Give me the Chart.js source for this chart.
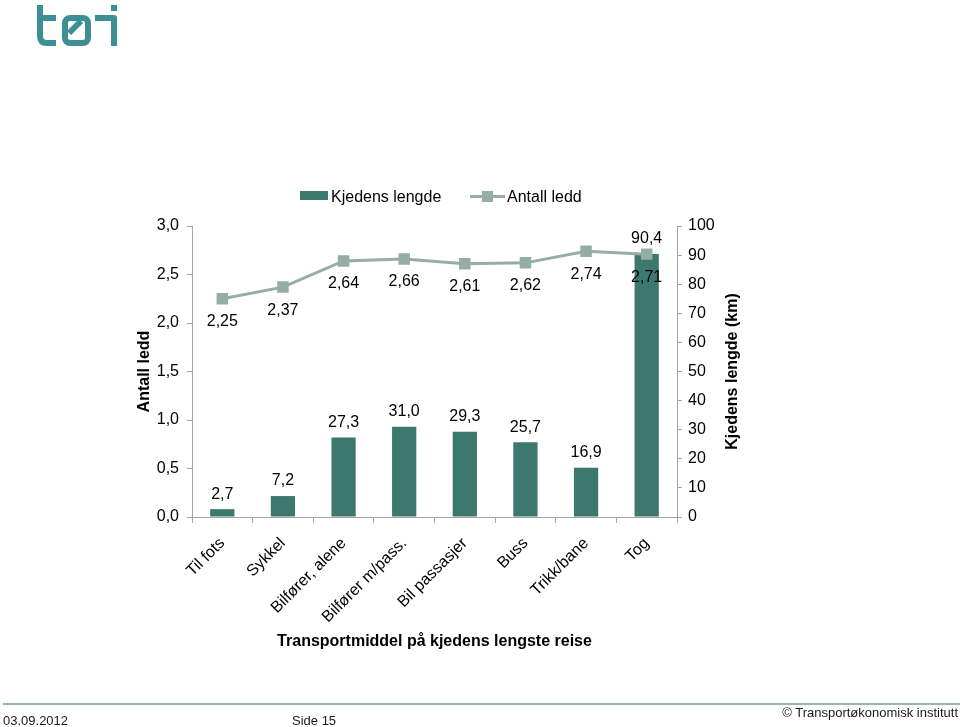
<!DOCTYPE html>
<html>
<head>
<meta charset="utf-8">
<script src="https://cdn.jsdelivr.net/npm/chart.js@4"></script>
<style>
  html, body { margin: 0; padding: 0; background: #fff; }
  body { width: 960px; height: 727px; position: relative; overflow: hidden; font-family: "Liberation Sans", Arial, sans-serif; }
  #wrap { position: absolute; left: 0; top: 0; width: 960px; height: 727px; }
  .legend { position: absolute; top: 187px; font-size: 16px; color: #000; line-height: 20px; }
  .foot { position: absolute; font-family: "Liberation Sans Narrow", "Liberation Sans", Arial, sans-serif; font-size: 13px; color: #1a1a1a; }
</style>
</head>
<body>
<svg style="position:absolute;left:0;top:0" width="130" height="52">
  <g fill="none" stroke="#3E8E96" stroke-width="6" stroke-linecap="butt" stroke-linejoin="round">
    <path d="M40 5 V36 Q40 43 47 43 H56"/>
    <path d="M40 18 H56"/>
    <rect x="65" y="18" width="23" height="25" rx="5"/>
    <path d="M69 33 L81 21"/>
    <path d="M95 18 H114 V46"/>
  </g>
  <rect x="111" y="5" width="6" height="6" fill="#3E8E96"/>
</svg>
<div id="wrap"><canvas id="c" width="960" height="727"></canvas></div>
<div class="legend" style="left:300px;"><span style="display:inline-block;width:28px;height:9px;background:#3C786D;vertical-align:middle;margin-right:3px;position:relative;top:-2px"></span>Kjedens lengde</div>
<div class="legend" style="left:470px;">
  <span style="display:inline-block;width:35px;height:10px;position:relative;vertical-align:middle;margin-right:2px;top:-2px">
    <span style="position:absolute;left:0;top:4px;width:35px;height:3px;background:#95ADA5"></span>
    <span style="position:absolute;left:12px;top:0;width:11px;height:11px;background:#95ADA5"></span>
  </span>Antall ledd</div>
<div style="position:absolute;left:3px;top:703px;width:957px;height:2px;background:#9DB3AC"></div>
<div class="foot" style="left:3px;top:713px;">03.09.2012</div>
<div class="foot" style="left:292px;top:713px;">Side 15</div>
<div class="foot" style="right:2px;top:705px;">© Transportøkonomisk institutt</div>
<script>
const categories = ["Til fots", "Sykkel", "Bilfører, alene", "Bilfører m/pass.", "Bil passasjer", "Buss", "Trikk/bane", "Tog"];
const kjedensLengde = [2.7, 7.2, 27.3, 31.0, 29.3, 25.7, 16.9, 90.4];
const antallLedd = [2.25, 2.37, 2.64, 2.66, 2.61, 2.62, 2.74, 2.71];
const leftTicks = [0, 0.5, 1.0, 1.5, 2.0, 2.5, 3.0];
const rightTicks = [0, 10, 20, 30, 40, 50, 60, 70, 80, 90, 100];

const BAR = "#3C786D";
const LINE = "#95ADA5";
const AXIS = "#A6A6A6";
const FONT = "'Liberation Sans', Arial, sans-serif";

const comma = (v, d) => v.toFixed(d).replace('.', ',');

const labelPlugin = {
  id: 'valueLabels',
  afterDatasetsDraw(chart) {
    const ctx = chart.ctx;
    ctx.save();
    ctx.font = "16px " + FONT;
    ctx.fillStyle = "#000";
    ctx.textAlign = "center";
    ctx.textBaseline = "middle";
    chart.getDatasetMeta(0).data.forEach((el, i) => {
      ctx.fillText(comma(kjedensLengde[i], 1), el.x, el.y - 15);
    });
    chart.getDatasetMeta(1).data.forEach((el, i) => {
      ctx.fillText(comma(antallLedd[i], 2), el.x, el.y + 23);
    });
    // right axis title, reading bottom-to-top
    const a = chart.chartArea;
    ctx.translate(733, (a.top + a.bottom) / 2);
    ctx.rotate(-Math.PI / 2);
    ctx.font = "bold 16px " + FONT;
    ctx.fillText('Kjedens lengde (km)', 0, 0);
    ctx.restore();
  }
};

new Chart(document.getElementById('c'), {
  data: {
    labels: categories,
    datasets: [
      {
        type: 'bar', label: 'Kjedens lengde', data: kjedensLengde, yAxisID: 'y2',
        backgroundColor: BAR, categoryPercentage: 1.0, barPercentage: 0.4, order: 2
      },
      {
        type: 'line', label: 'Antall ledd', data: antallLedd, yAxisID: 'y',
        borderColor: LINE, backgroundColor: LINE, borderWidth: 3,
        pointStyle: 'rect', pointRadius: 6, pointHoverRadius: 6, tension: 0, order: 1
      }
    ]
  },
  options: {
    responsive: false,
    animation: false,
    events: [],
    layout: { padding: { left: 125, top: 226, right: 209, bottom: 76 } },
    plugins: { legend: { display: false }, tooltip: { enabled: false } },
    scales: {
      x: {
        offset: true,
        grid: { display: true, drawOnChartArea: false, drawTicks: true, tickLength: 6, color: AXIS, offset: true },
        border: { color: AXIS, width: 1 },
        ticks: { color: '#000', font: { family: FONT, size: 16 }, minRotation: 45, maxRotation: 45, padding: 11 },
        title: { display: true, text: 'Transportmiddel på kjedens lengste reise', color: '#000', font: { family: FONT, size: 16, weight: 'bold' }, padding: { top: 4, bottom: 0 } },
        afterFit(s) { s.height = 134; }
      },
      y: {
        position: 'left', min: 0, max: 3,
        afterBuildTicks(s) { s.ticks = leftTicks.map(v => ({ value: v })); },
        grid: { display: true, drawOnChartArea: false, drawTicks: true, tickLength: 5, color: AXIS },
        border: { color: AXIS, width: 1 },
        ticks: { color: '#000', font: { family: FONT, size: 16 }, padding: 8, callback: v => comma(v, 1) },
        title: { display: true, text: 'Antall ledd', color: '#000', font: { family: FONT, size: 16, weight: 'bold' }, padding: { top: 10, bottom: 0 } },
        afterFit(s) { s.width = 67; }
      },
      y2: {
        position: 'right', min: 0, max: 100,
        afterBuildTicks(s) { s.ticks = rightTicks.map(v => ({ value: v })); },
        grid: { display: true, drawOnChartArea: false, drawTicks: true, tickLength: 5, color: AXIS },
        border: { color: AXIS, width: 1 },
        ticks: { color: '#000', font: { family: FONT, size: 16 }, padding: 6, callback: v => String(v) },
        title: { display: false },
        afterFit(s) { s.width = 74; }
      }
    }
  },
  plugins: [labelPlugin]
});
</script>
</body>
</html>
